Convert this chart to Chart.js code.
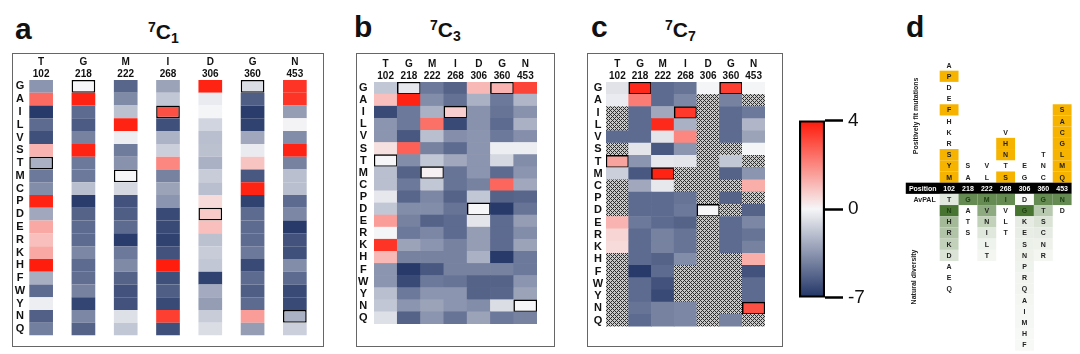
<!DOCTYPE html>
<html>
<head>
<meta charset="utf-8">
<script src="https://cdn.jsdelivr.net/npm/chart.js@4/dist/chart.umd.min.js"></script>
<style>
  body { margin: 0; background: #fff; }
  #wrap { position: relative; width: 1080px; height: 354px; overflow: hidden; background: #fff;
          font-family: "Liberation Sans", Arial, sans-serif; color: #111; }
  .box { position: absolute; border: 1.5px solid #666; box-sizing: border-box; }
  .chart { position: absolute; }
  .letter { position: absolute; font-size: 30px; line-height: 30px; font-weight: bold; }
  .title { position: absolute; font-weight: bold; line-height: 21px; white-space: nowrap; }
  .title .big { font-size: 21px; }
  .title .sup { font-size: 14px; position: relative; top: -7px; }
  .title .sub { font-size: 14px; position: relative; top: 4px; }
</style>
</head>
<body>
<div id="wrap">
  <div class="letter" style="left:15px;top:14px">a</div>
  <div class="letter" style="left:354px;top:12px">b</div>
  <div class="letter" style="left:591px;top:12px">c</div>
  <div class="letter" style="left:906px;top:12px">d</div>

  <div class="title" style="left:148px;top:21px"><span class="sup">7</span><span class="big">C</span><span class="sub">1</span></div>
  <div class="title" style="left:430px;top:19px"><span class="sup">7</span><span class="big">C</span><span class="sub">3</span></div>
  <div class="title" style="left:665px;top:19px"><span class="sup">7</span><span class="big">C</span><span class="sub">7</span></div>

  <div class="box" style="left:12px;top:53px;width:312px;height:294px"></div>
  <div class="box" style="left:356px;top:53px;width:199px;height:294px"></div>
  <div class="box" style="left:587px;top:53px;width:196px;height:294px"></div>

  <div class="chart" style="left:4px;top:54px;width:312px;height:283px"><canvas id="heatA"></canvas></div>
  <div class="chart" style="left:358px;top:54px;width:179px;height:282px"><canvas id="heatB"></canvas></div>
  <div class="chart" style="left:590px;top:54px;width:175px;height:282px"><canvas id="heatC"></canvas></div>
  <div class="chart" style="left:799px;top:104px;width:86px;height:210px"><canvas id="colorBar"></canvas></div>
  <div class="chart" style="left:902px;top:55px;width:179px;height:299px"><canvas id="seqD"></canvas></div>
</div>
<script>
// residues (rows) and mutated positions (columns)
const rows = ['G','A','I','L','V','S','T','M','C','P','D','E','R','K','H','F','W','Y','N','Q'];
const positions = ['102','218','222','268','306','360','453'];
const wildType = ['T','G','M','I','D','G','N'];

// fitness scores per row, one value per position (null = not measured)
const scores7C1 = [
  [-3.5, 0, -5.2, -3, 3.8, -0.9, 3.5],
  [2.5, 3.8, -3.9, -1.7, -0.4, -5.5, 3.5],
  [-6.8, -5, -1.9, 3, -0.05, -6.7, -3.2],
  [-5, -5.6, 3.8, -6, -1.2, -6.5, -0.1],
  [-6, -4.2, -0.3, -2.4, -2, -2.8, -3.8],
  [1.2, 3.8, -4.4, -1.4, -1.9, -0.4, 3.8],
  [-2.5, -4.5, -3.6, 2, -2.5, 0.9, -4.2],
  [-4.5, -4.5, 0, -4.2, -1.5, -5.7, -2],
  [-3.8, -2, -1.1, -3, -2, 3.8, -2],
  [3.8, -6.7, -5.9, -3.5, 0.5, -6.5, -5],
  [-2.8, -5.3, -5.5, -6.2, 0.8, -5, -4],
  [1.4, -5, -5, -6.2, 1.0, -5, -6.8],
  [1.0, -5, -6.7, -6.5, -1.9, -5, -5.9],
  [1.4, -4, -4.5, -5.9, -1.5, -4.5, -6],
  [3.9, -5, -3.9, 3.9, -1.7, -6.2, -3.8],
  [-2.6, -4.9, -5.3, -6, -6.5, -5, -5],
  [-5, -4.2, -5.9, -5.5, -2.7, -5.5, -6.2],
  [-0.3, -6.4, -5.9, -6.2, -3.2, -5, -6.2],
  [-5.4, -4, -0.8, 3.3, -1.5, 1.6, -2.5],
  [-4.3, -5.3, -1.7, -6, -0.9, -3.2, -1.4]
];
const scores7C3 = [
  [-1.7, -0.5, -4.5, -5.3, 1.1, 1.2, 3.2],
  [1, 3.8, -3.8, -4.8, -2.5, -4.5, -2.3],
  [-6.2, -4.5, -2.5, 0.7, -3.6, -4.7, -3.6],
  [-3.5, -4.5, 2.4, -6.2, -3.6, -5, -2.5],
  [-3.5, -5.7, -2, -3.7, -3.5, -4.5, -3.7],
  [0.4, 2.7, -4.2, -5, -3.5, -0.3, -0.3],
  [0, -3.8, -1.7, -2.8, -3.5, -1.1, -3.8],
  [-2, -5.3, 0.1, -4.7, -3.5, -5, -3.5],
  [-2, -4.5, -1.7, -4.7, -4.2, 2.6, -2.8],
  [-0.5, -5.2, -4, -5.3, -1.7, -5.3, -5.2],
  [-1.7, -3.8, -3.8, -4.7, 0, -6.8, -4.7],
  [1.6, -4.2, -5.3, -5, -0.6, -5, -3.2],
  [-0.05, -4.5, -4, -5, -3.2, -5, -3.8],
  [3.5, -3, -3.5, -4.2, -3.2, -5, -3],
  [1.1, -4.2, -4.2, -4.2, -2.5, -6.8, -4.5],
  [-3.5, -6.8, -5.7, -4.2, -4.2, -4.2, -4.5],
  [-3.5, -6.2, -4.5, -4.7, -5.3, -5.3, -3.5],
  [-2, -4.5, -3.5, -3.5, -5.3, -5.2, -3],
  [-1.7, -3.5, -3, -3.5, -3.8, -0.9, 0],
  [-0.8, -5.3, -3.5, -4.7, -3, -4.5, -4.2]
];
const scores7C7 = [
  [-0.7, 3.7, -5, -4.7, -0.05, 3.3, -0.05],
  [-0.4, 2.2, -5, -4, null, -4.2, null],
  [null, -5, -2.8, 3.4, null, -5, -4.5],
  [null, -5, 3.7, -2.5, null, -5, -2.3],
  [-5, -5, -0.6, 2, null, -5, -3],
  [null, -0.6, -5.7, -3.5, null, null, -0.05],
  [1.5, -3.5, -0.5, -0.6, null, -1.7, null],
  [-1.4, -5.7, 3.8, null, null, -5.3, -3.5],
  [null, -2.8, -0.5, null, null, null, 1.3],
  [null, -5, -5, -4.7, null, -5.3, null],
  [null, -5, -5, -4.5, 0, null, -5.3],
  [1.2, -4.5, -5, -5.3, null, -5, -4],
  [0.6, -5, -4.2, -4.7, null, -5, -4.7],
  [0.5, -5, -4.2, -4.7, null, -5, -4.2],
  [null, -5, -5.3, -3.8, null, null, 1.3],
  [null, -6.8, -5, null, null, null, -5.9],
  [null, -5, -5.9, null, null, null, -5],
  [null, -5, -6.2, null, null, null, -5],
  [null, -4.7, -4.2, -4, null, null, 3],
  [null, -5, -4.2, -4, null, -4.2, null]
];

// colour bar ticks
const colorTicks = [4, 0, -7];

// panel d: mutations listed upward from the position row, highlighted ones in yellow
const fitMutations = ['MYSRKHFEDPA', 'AS', 'LV', 'STNHV', 'GE', 'CNT', 'QMLGCAS'];
const fitHighlight = ['MYSFP', '', '', 'SNH', '', '', 'QMLGCAS'];
// natural diversity listed downward, with shading (relative frequency)
const naturalDiversity = ['NHRKDAEQ', 'ATS', 'VNILT', 'VLT', 'GKESNPRQAIMHF', 'TSCNR', 'D'];
const naturalShade = [
  [0.9, 0.45, 0.38, 0.3, 0.18, 0, 0, 0],
  [0, 0, 0],
  [0.55, 0.3, 0.15, 0.08, 0.06],
  [0, 0, 0],
  [0.9, 0.12, 0.11, 0.1, 0.09, 0.08, 0.07, 0.07, 0.06, 0.05, 0.05, 0.04, 0.04],
  [0.35, 0.18, 0.12, 0.09, 0.06],
  [0]
];
const avpalShade = [0.15, 0.75, 0.75, 0.75, 0.03, 0.75, 0.75];

Chart.defaults.font.family = '"Liberation Sans", Arial, sans-serif';
Chart.defaults.color = '#111';

const WHITE = [246, 246, 248], RED = [255, 24, 8], NAVY = [33, 52, 102];
function mix(a, b, t) {
  return 'rgb(' + a.map((c, i) => Math.round(c + (b[i] - c) * t)).join(',') + ')';
}
function heatColor(v) {
  if (v >= 0) return mix(WHITE, RED, Math.min(v / 4, 1));
  return mix(WHITE, NAVY, Math.min(-v / 7, 1));
}

// cross-hatched fill for positions without data
function makeHatch() {
  const c = document.createElement('canvas');
  c.width = c.height = 4;
  const g = c.getContext('2d');
  g.fillStyle = '#c8c8c8';
  g.fillRect(0, 0, 4, 4);
  g.fillStyle = '#2e2e2e';
  for (let i = 0; i < 4; i++)
    for (let j = 0; j < 4; j++)
      if ((i + j) % 4 === 0 || (i - j + 4) % 4 === 0) g.fillRect(i, j, 1, 1);
  return g.createPattern(c, 'repeat');
}
const hatch = makeHatch();

// labelCenter: distance from the plot's left edge back to the row-label centres
function heatmap(id, scores, barPct, labelCenter, headerH) {
  // stacked from the bottom row (Q) upward
  const datasets = rows.map((aa, i) => ({
    label: aa,
    data: positions.map(() => 1),
    backgroundColor: scores[i].map(v => v === null ? hatch : heatColor(v)),
    borderColor: '#000',
    borderWidth: positions.map((p, j) => wildType[j] === aa ? 1.5 : 0),
    borderSkipped: false,
    barPercentage: barPct,
    categoryPercentage: 1
  })).reverse();

  return new Chart(document.getElementById(id), {
    type: 'bar',
    data: { labels: positions.map((p, j) => [wildType[j], p]), datasets },
    options: {
      responsive: true,
      maintainAspectRatio: false,
      animation: false,
      layout: { padding: 0 },
      plugins: { legend: { display: false }, tooltip: { enabled: false } },
      scales: {
        x: {
          position: 'top',
          stacked: true,
          grid: { display: false, drawTicks: false },
          border: { display: false },
          ticks: { font: { weight: 'bold', size: 10 }, color: '#111', padding: 0, maxRotation: 0, autoSkip: false },
          afterFit: s => { s.height = headerH; }
        },
        y: {
          stacked: true,
          min: 0,
          max: rows.length,
          grid: { display: false, drawTicks: false },
          border: { display: false },
          afterBuildTicks: s => { s.ticks = rows.map((r, i) => ({ value: rows.length - 0.5 - i })); },
          ticks: {
            autoSkip: false,
            crossAlign: 'center',
            callback: (v, i) => rows[i],
            font: { weight: 'bold', size: 11 },
            color: '#111',
            padding: labelCenter - 5.2
          },
          afterFit: s => { s.width = 16; },
          // let the labels run past the narrow axis box
          afterUpdate: s => { s._computeLabelArea = () => undefined; }
        }
      }
    }
  });
}

heatmap('heatA', scores7C1, 0.56, 0, 26);
heatmap('heatB', scores7C3, 1, 10.7, 28);
heatmap('heatC', scores7C7, 1, 8, 28);

// colour bar: 4 at the top, 0 in the middle, -7 at the bottom
const toBar = v => v >= 0 ? v / 4 : v / 7;
new Chart(document.getElementById('colorBar'), {
  type: 'bar',
  data: {
    labels: [''],
    datasets: [{
      data: [[-1, 1]],
      backgroundColor: c => {
        const { chartArea, ctx } = c.chart;
        if (!chartArea) return null;
        const g = ctx.createLinearGradient(0, chartArea.top, 0, chartArea.bottom);
        for (let k = 0; k <= 40; k++) {
          const p = k / 40;
          const v = p <= 0.5 ? colorTicks[0] * (1 - 2 * p) : colorTicks[2] * (2 * p - 1);
          g.addColorStop(p, heatColor(v));
        }
        return g;
      },
      borderColor: '#000',
      borderWidth: 2.5,
      borderSkipped: false,
      barPercentage: 1,
      categoryPercentage: 1
    }]
  },
  options: {
    responsive: true,
    maintainAspectRatio: false,
    animation: false,
    layout: { padding: { top: 12, bottom: 12, left: 0, right: 0 } },
    plugins: { legend: { display: false }, tooltip: { enabled: false } },
    scales: {
      x: { display: false },
      y: {
        position: 'right',
        min: -1,
        max: 1,
        border: { display: false },
        grid: { display: true, drawOnChartArea: false, drawTicks: true, tickLength: 18, tickColor: '#000', tickWidth: 2.5 },
        afterBuildTicks: s => { s.ticks = colorTicks.map(v => ({ value: toBar(v) })); },
        ticks: { callback: (v, i) => String(colorTicks[i]), font: { size: 19 }, color: '#111', padding: 5 },
        afterFit: s => { s.width = 60; }
      }
    }
  }
});

// panel d: sequence table drawn on linear scales (columns 1..7, row 0 = position bar)
const seqPlugin = {
  id: 'seqTable',
  afterDraw(chart) {
    const { ctx } = chart;
    const xs = chart.scales.x, ys = chart.scales.y;
    const px = v => xs.getPixelForValue(v);
    const py = v => ys.getPixelForValue(v);
    const rowH = py(0) - py(1);
    const green = s => mix([255, 255, 255], [50, 100, 25], s);
    const ink = s => s > 0.6 ? '#1f4010' : '#222';
    const fillCell = (x0, x1, row, color) => {
      ctx.fillStyle = color;
      ctx.fillRect(px(x0), py(row + 0.5), px(x1) - px(x0), rowH);
    };
    const write = (xv, row, text, color) => {
      ctx.fillStyle = color;
      ctx.fillText(text, px(xv), py(row) + 0.5);
    };

    ctx.save();
    ctx.font = 'bold 7px "Liberation Sans", Arial, sans-serif';
    ctx.textAlign = 'center';
    ctx.textBaseline = 'middle';

    fitMutations.forEach((letters, j) => {
      [...letters].forEach((aa, k) => {
        if (fitHighlight[j].includes(aa)) fillCell(j + 0.5, j + 1.5, k + 1, '#f6b300');
        write(j + 1, k + 1, aa, '#222');
      });
    });

    fillCell(-1.3, 7.5, 0, '#000');
    write(-0.4, 0, 'Position', '#fff');
    positions.forEach((p, j) => write(j + 1, 0, p, '#fff'));

    write(-0.3, -1, 'AvPAL', '#222');
    wildType.forEach((aa, j) => {
      fillCell(j + 0.5, j + 1.5, -1, green(avpalShade[j]));
      write(j + 1, -1, aa, ink(avpalShade[j]));
    });

    naturalDiversity.forEach((letters, j) => {
      [...letters].forEach((aa, k) => {
        const s = naturalShade[j][k];
        if (s > 0) fillCell(j + 0.5, j + 1.5, -(k + 2), green(s));
        write(j + 1, -(k + 2), aa, ink(s));
      });
    });

    // rotated captions
    [['Positively fit mutations', -0.76, 6.46], ['Natural diversity', -0.86, -7.92]].forEach(([t, xv, yv]) => {
      ctx.save();
      ctx.translate(px(xv), py(yv));
      ctx.rotate(-Math.PI / 2);
      ctx.fillStyle = '#222';
      ctx.fillText(t, 0, 0);
      ctx.restore();
    });
    ctx.restore();
  }
};

new Chart(document.getElementById('seqD'), {
  type: 'scatter',
  data: { datasets: [] },
  options: {
    responsive: true,
    maintainAspectRatio: false,
    animation: false,
    layout: { padding: 0 },
    plugins: { legend: { display: false }, tooltip: { enabled: false } },
    scales: {
      x: { type: 'linear', min: -1.5, max: 8, display: false },
      y: { type: 'linear', min: -14.8, max: 11.9, display: false }
    }
  },
  plugins: [seqPlugin]
});
</script>
</body>
</html>
